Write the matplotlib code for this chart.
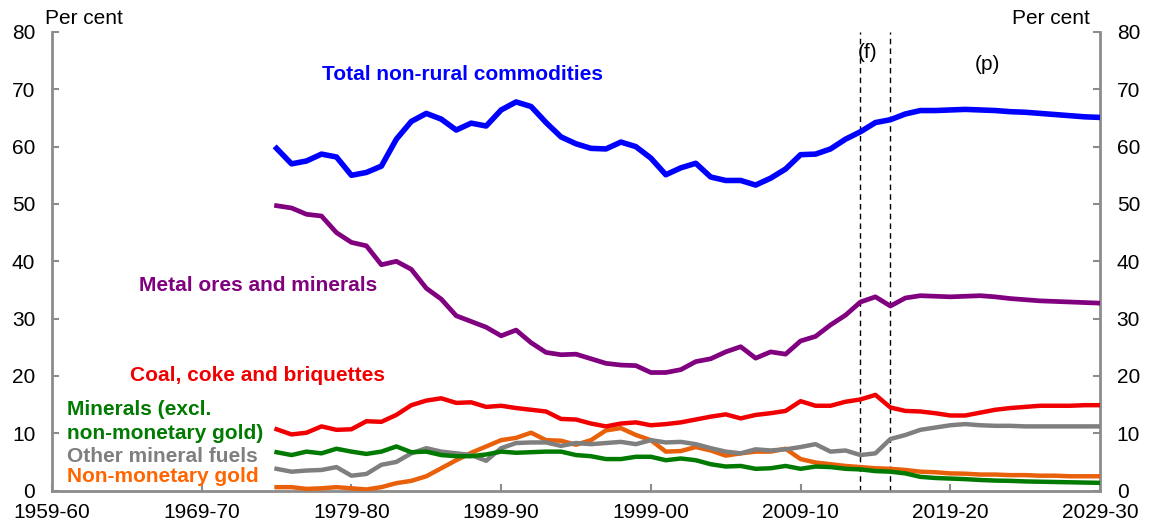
import matplotlib
matplotlib.use("Agg")
import matplotlib.pyplot as plt

plt.rcParams['font.family'] = ['Liberation Sans', 'DejaVu Sans']

# financial years, given by starting year (1974 = 1974-75)
years = list(range(1974, 2030))

total = [59.7, 57.0, 57.5, 58.7, 58.2, 55.0, 55.5, 56.6, 61.3, 64.4, 65.8, 64.8, 62.9, 64.1,
         63.6, 66.4, 67.8, 67.0, 64.2, 61.7, 60.5, 59.7, 59.6, 60.8, 60.0, 58.0, 55.1, 56.3,
         57.1, 54.7, 54.1, 54.1, 53.3, 54.5, 56.1, 58.6, 58.7, 59.6, 61.3, 62.6, 64.2, 64.7,
         65.7, 66.3, 66.3, 66.4, 66.5, 66.4, 66.3, 66.1, 66.0, 65.8, 65.6, 65.4, 65.2, 65.1]

metal = [49.7, 49.3, 48.2, 47.9, 45.0, 43.3, 42.7, 39.4, 40.0, 38.6, 35.3, 33.4, 30.5, 29.5,
         28.5, 27.0, 28.0, 25.8, 24.1, 23.7, 23.8, 23.0, 22.2, 21.9, 21.8, 20.6, 20.6, 21.1,
         22.5, 23.0, 24.2, 25.1, 23.1, 24.2, 23.8, 26.1, 26.9, 28.9, 30.6, 32.9, 33.8, 32.2,
         33.6, 34.0, 33.9, 33.8, 33.9, 34.0, 33.8, 33.5, 33.3, 33.1, 33.0, 32.9, 32.8, 32.7]

coal = [10.7, 9.8, 10.1, 11.2, 10.6, 10.7, 12.1, 12.0, 13.2, 14.9, 15.7, 16.1, 15.3, 15.4,
        14.6, 14.8, 14.4, 14.1, 13.8, 12.5, 12.4, 11.7, 11.2, 11.7, 11.9, 11.4, 11.6, 11.9,
        12.4, 12.9, 13.3, 12.6, 13.2, 13.5, 13.9, 15.6, 14.8, 14.8, 15.5, 15.9, 16.7, 14.5,
        13.9, 13.8, 13.5, 13.1, 13.1, 13.6, 14.1, 14.4, 14.6, 14.8, 14.8, 14.8, 14.9, 14.9]

minerals = [6.7, 6.2, 6.8, 6.5, 7.3, 6.8, 6.4, 6.8, 7.7, 6.7, 6.8, 6.2, 6.0, 6.0,
            6.3, 6.8, 6.6, 6.7, 6.8, 6.8, 6.2, 6.0, 5.5, 5.5, 5.9, 5.9, 5.3, 5.6,
            5.3, 4.6, 4.2, 4.3, 3.8, 3.9, 4.3, 3.8, 4.2, 4.1, 3.8, 3.7, 3.4, 3.3,
            3.0, 2.4, 2.2, 2.1, 2.0, 1.85, 1.75, 1.7, 1.6, 1.55, 1.5, 1.45, 1.4, 1.35]

fuels = [3.8, 3.3, 3.5, 3.6, 4.1, 2.6, 2.9, 4.5, 5.0, 6.5, 7.4, 6.8, 6.5, 6.2,
         5.2, 7.4, 8.3, 8.4, 8.4, 7.8, 8.3, 8.1, 8.3, 8.5, 8.1, 8.8, 8.4, 8.5,
         8.1, 7.4, 6.8, 6.5, 7.2, 7.0, 7.2, 7.6, 8.1, 6.8, 7.0, 6.2, 6.5, 9.0,
         9.7, 10.6, 11.0, 11.4, 11.6, 11.4, 11.3, 11.3, 11.2, 11.2, 11.2, 11.2, 11.2, 11.2]

gold = [0.6, 0.6, 0.3, 0.4, 0.6, 0.4, 0.2, 0.6, 1.3, 1.7, 2.5, 3.9, 5.3, 6.6,
        7.7, 8.8, 9.2, 10.1, 8.8, 8.7, 8.0, 8.8, 10.5, 10.9, 9.7, 8.8, 6.8, 6.9,
        7.6, 7.0, 6.1, 6.5, 6.8, 6.8, 7.3, 5.5, 4.9, 4.6, 4.3, 4.1, 3.9, 3.8,
        3.6, 3.3, 3.2, 3.0, 2.95, 2.8, 2.8, 2.7, 2.7, 2.6, 2.6, 2.5, 2.5, 2.5]

tick_years = list(range(1959, 2030, 10))
tick_labels = [f"{y}-{str(y + 1)[2:]}" for y in tick_years]
forecast_lines = [2013, 2015]

fig = plt.figure(figsize=(11.49, 5.32), dpi=100)
ax = fig.add_axes([52 / 1149, 1 - 490.6 / 532, 1048 / 1149, 458.6 / 532])

ax.plot(years, gold, color='#E8600A', lw=3.2, zorder=3)
ax.plot(years, fuels, color='#7F7F7F', lw=3.2, zorder=3)
ax.plot(years, minerals, color='#007A00', lw=3.2, zorder=3)
ax.plot(years, coal, color='#F00000', lw=3.2, zorder=3)
ax.plot(years, metal, color='#800080', lw=3.4, zorder=3)
ax.plot(years, total, color='#0000FF', lw=4.0, zorder=3)

# forecast / projection boundaries
for x in forecast_lines:
    ax.axvline(x, color='black', lw=1, ls=(0, (4, 3)), zorder=2)

ax.set_xlim(1959, 2029)
ax.set_ylim(0, 80)
ax.set_xticks(tick_years)
ax.set_xticklabels(tick_labels)
ax.set_yticks(range(0, 81, 10))

ax.spines['top'].set_visible(False)
for s in ['left', 'right', 'bottom']:
    ax.spines[s].set_color('#8C8C8C')
    ax.spines[s].set_linewidth(2)

ax.tick_params(axis='both', direction='in', length=5, width=1.5, color='#8C8C8C',
               labelsize=15, labelcolor='black')
ax.tick_params(axis='x', pad=9)
ax.tick_params(axis='y', pad=12, right=True, labelright=True)

fig.text(45 / 1149, 1 - 18 / 532, 'Per cent', fontsize=15, va='center', ha='left')
fig.text(1090 / 1149, 1 - 18 / 532, 'Per cent', fontsize=15, va='center', ha='right')

bold = dict(fontsize=15, fontweight='bold')
ax.text(1986.4, 72.5, 'Total non-rural commodities', color='#0000FF', ha='center', va='center', **bold)
ax.text(1972.8, 35.7, 'Metal ores and minerals', color='#800080', ha='center', va='center', **bold)
ax.text(1972.7, 20.0, 'Coal, coke and briquettes', color='#F00000', ha='center', va='center', **bold)
ax.text(1960.0, 14.1, 'Minerals (excl.', color='#007A00', ha='left', va='center', **bold)
ax.text(1960.0, 10.0, 'non-monetary gold)', color='#007A00', ha='left', va='center', **bold)
ax.text(1960.0, 6.0, 'Other mineral fuels', color='#7F7F7F', ha='left', va='center', **bold)
ax.text(1960.0, 2.5, 'Non-monetary gold', color='#FF6600', ha='left', va='center', **bold)
ax.text(2013.5, 76.5, '(f)', fontsize=15, ha='center', va='center')
ax.text(2021.5, 74.3, '(p)', fontsize=15, ha='center', va='center')

fig.savefig('out.png', dpi=100)
